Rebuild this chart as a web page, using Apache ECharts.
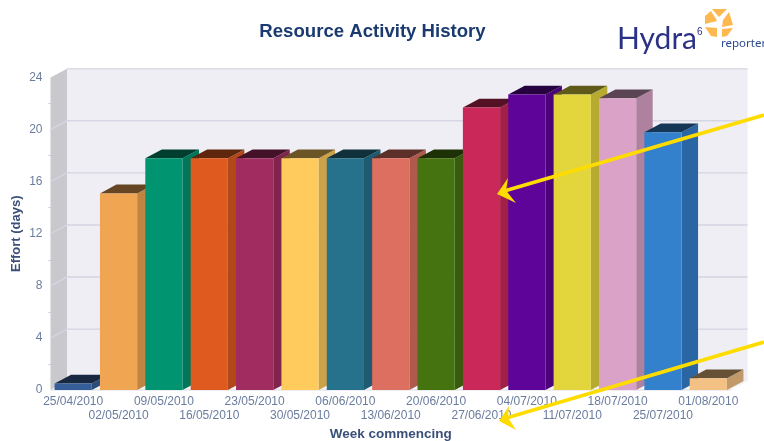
<!DOCTYPE html>
<html>
<head>
<meta charset="utf-8">
<style>
html,body{margin:0;padding:0;background:#fff}
#chart{width:764px;height:441px;filter:blur(0.35px)}
</style>
<script src="https://cdn.jsdelivr.net/npm/echarts@6/dist/echarts.min.js"></script>
</head>
<body>
<div id="chart"></div>
<script>
const weeks = ['25/04/2010','02/05/2010','09/05/2010','16/05/2010','23/05/2010','30/05/2010','06/06/2010','13/06/2010','20/06/2010','27/06/2010','04/07/2010','11/07/2010','18/07/2010','25/07/2010','01/08/2010'];
const effort = [0.5,15.1,17.8,17.8,17.8,17.8,17.8,17.8,17.8,21.7,22.7,22.7,22.4,19.8,0.9];
const barColors = ['#365f99','#f0a553','#009570','#de5a1f','#a02c60','#fecb5c','#26728c','#dc6f5f','#44730f','#c92859','#5e0499','#e3d63c','#d9a2c6','#3380cc','#f3c184'];
const yTicks = [0,4,8,12,16,20,24];

const DX = 16.5, DY = 8.8;
const TEXT = '#6a7c9e', DARK = '#1a3a70', FONT = '"Liberation Sans", Arial, sans-serif';

function shade(hex, k){
  const n = parseInt(hex.slice(1),16);
  const c = [n>>16&255,n>>8&255,n&255].map(v=>Math.round(v*k));
  return 'rgb('+c.join(',')+')';
}
function poly(points, fill){
  return {type:'polygon',shape:{points},style:{fill}};
}
function renderBar(params, api){
  const i = api.value(0), v = api.value(1);
  const band = api.size([1,0])[0];
  const w = band*0.82;
  const c = api.coord([i,v]), b = api.coord([i,0]);
  const l = c[0]-w/2, r = l+w, t = c[1], y0 = b[1];
  const col = barColors[i];
  return {type:'group',children:[
    poly([[r,y0],[r+DX,y0-DY],[r+DX,t-DY],[r,t]], shade(col,0.8)),
    poly([[l,t],[l+DX,t-DY],[r+DX,t-DY],[r,t]], shade(col,0.42)),
    {type:'rect',shape:{x:l,y:t,width:w,height:y0-t},style:{fill:col}}
  ]};
}
function renderWall(params, api){
  const v = api.value(1);
  const a = api.coord([0,v]), band = api.size([1,0])[0];
  const x0 = a[0]-band/2, x1 = x0+band*weeks.length, y = a[1];
  const line = {stroke:'#d5d5e4',lineWidth:1.4,fill:'none'};
  const children = [];
  if (params.dataIndex === 0){
    const top = api.coord([0,24])[1];
    children.push(
      poly([[x0+DX,top-DY],[x1+DX,top-DY],[x1+DX,y-DY],[x0+DX,y-DY]],'#eeeef4'),
      poly([[x0,y],[x0+DX,y-DY],[x1+DX,y-DY],[x1,y]],'#f3f3f7'),
      poly([[x0,top],[x0+DX,top-DY],[x0+DX,y-DY],[x0,y]],'#c9c9cd'),
      {type:'polyline',shape:{points:[[x0+DX,top-DY],[x1+DX,top-DY]]},style:{stroke:'#dcdce8',lineWidth:1.5,fill:'none'}},
      {type:'polyline',shape:{points:[[x0,y],[x1,y]]},style:{stroke:'#dcdce4',lineWidth:1.2,fill:'none'}}
    );
  } else {
    children.push({type:'polyline',shape:{points:[[x0,y],[x0+DX,y-DY],[x1+DX,y-DY]]},style:line});
  }
  return {type:'group',children};
}
function arrow(tip, barbA, notch, barbB, tail){
  return [
    {type:'line',z:50,shape:{x1:tail[0],y1:tail[1],x2:notch[0],y2:notch[1]},style:{stroke:'#ffdc00',lineWidth:3.6}},
    {type:'polygon',z:50,shape:{points:[tip,barbA,notch,barbB]},style:{fill:'#ffdc00'}}
  ];
}
const chart = echarts.init(document.getElementById('chart'),null,{renderer:'canvas'});
chart.setOption({
  animation:false,
  backgroundColor:'#fff',
  title:{text:'Resource Activity History',left:367.5,top:17,textAlign:'center',
    textStyle:{fontFamily:FONT,fontSize:18.6,fontWeight:'bold',color:DARK}},
  grid:{left:50.5,right:33,top:77.5,bottom:51,containLabel:false,outerBoundsMode:'none'},
  xAxis:{type:'category',data:weeks,name:'Week commencing',nameLocation:'middle',nameGap:37.5,nameMoveOverlap:false,
    nameTextStyle:{fontFamily:FONT,fontSize:13.5,fontWeight:'bold',color:'#3b5078'},
    axisLine:{show:false},axisTick:{show:false},
    axisLabel:{interval:0,fontFamily:FONT,fontSize:12,color:TEXT,margin:5,lineHeight:14,hideOverlap:false,
      formatter:(v,i)=> i%2 ? '\n'+v : v}},
  yAxis:{type:'value',min:0,max:24,interval:4,name:'Effort (days)',nameLocation:'middle',nameGap:28,nameMoveOverlap:false,
    nameTextStyle:{fontFamily:FONT,fontSize:13,fontWeight:'bold',color:'#3b5078'},
    axisLine:{show:false},axisTick:{show:false},splitLine:{show:false},
    minorTick:{show:true,splitNumber:2,length:2,lineStyle:{color:'#c4c4dc'}},
    axisLabel:{fontFamily:FONT,fontSize:12,color:TEXT,margin:8,padding:[2,0,0,0]}},
  series:[
    {type:'custom',renderItem:renderWall,silent:true,z:1,encode:{x:0,y:1},
      data:yTicks.filter(t=>t<24).map(t=>[0,t]),clip:false},
    {type:'custom',renderItem:renderBar,z:2,encode:{x:0,y:1},clip:false,
      data:effort.map((v,i)=>[i,v])}
  ],
  graphic:[
    ...arrow([497,194],[508,178],[506,190.5],[516,203],[764,115]),
    ...arrow([499,421],[509,406],[508,417.5],[516,430],[764,342]),
    {type:'text',z:40,left:617,top:24,style:{text:'Hydra',font:'30px Lato, "Noto Sans", sans-serif',fill:'#2b3285'}},
    {type:'text',z:40,left:697,top:27,style:{text:'6',font:'10px "Liberation Sans", sans-serif',fill:'#2b3285'}},
    {type:'text',z:40,left:721,top:38,style:{text:'reporter',font:'11.5px "Noto Sans", sans-serif',fill:'#2b4a90'}},
    {type:'polygon',z:40,shape:{points:[[712,9],[727,9],[719,17]]},style:{fill:'#fdb850'}},
    {type:'polygon',z:40,shape:{points:[[705,16],[711,11],[716,19],[717,21],[705,24]]},style:{fill:'#fdb850'}},
    {type:'polygon',z:40,shape:{points:[[729,12],[733,25],[722,27],[723,20]]},style:{fill:'#fdb850'}},
    {type:'polygon',z:40,shape:{points:[[705,27],[717,28],[717,37],[711,36]]},style:{fill:'#fdb850'}},
    {type:'polygon',z:40,shape:{points:[[722,29],[733,28],[727,36],[722,37]]},style:{fill:'#fdb850'}}
  ]
});
</script>
</body>
</html>
